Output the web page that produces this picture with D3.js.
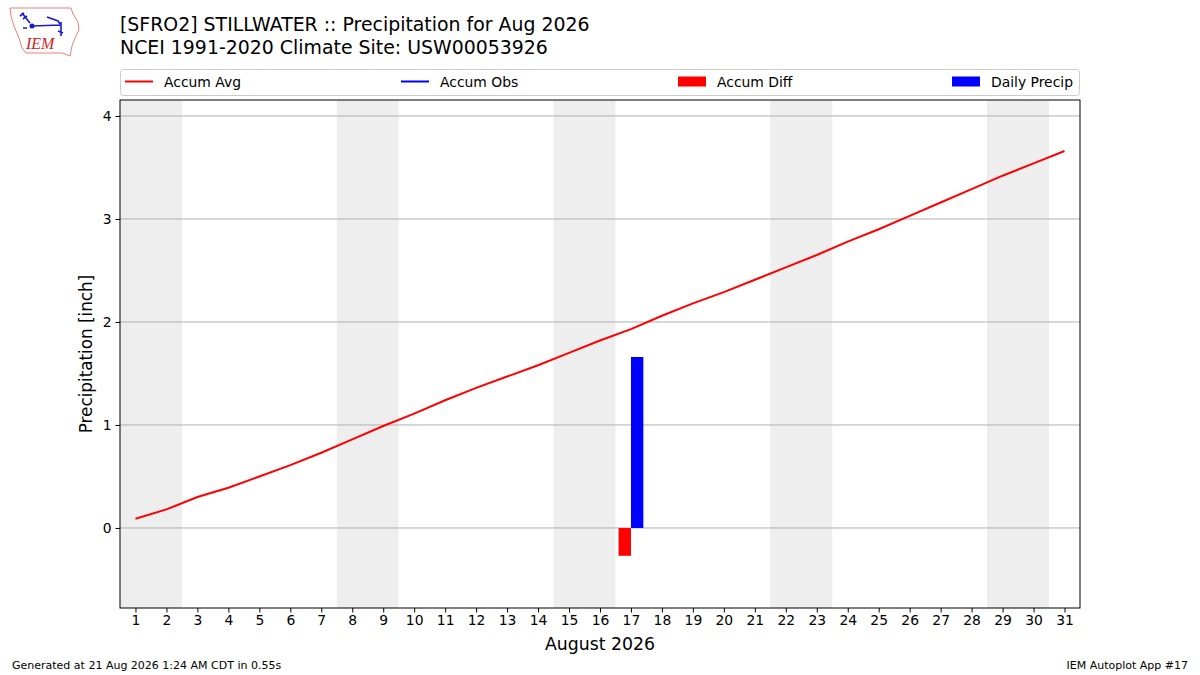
<!DOCTYPE html>
<html>
<head>
<meta charset="utf-8">
<script src="https://cdn.jsdelivr.net/npm/d3@7"></script>
<style>
  body { margin: 0; background: #fff; }
  svg { font-family: "DejaVu Sans", sans-serif; }
</style>
</head>
<body>
<div id="chart"></div>
<script>
// days of the month and accumulated climatology (inch)
const days = d3.range(1, 32);
const accumAvg = [0.09, 0.18, 0.30, 0.39, 0.50, 0.61, 0.73, 0.86, 0.99, 1.11,
                  1.24, 1.36, 1.47, 1.58, 1.70, 1.82, 1.93, 2.06, 2.18, 2.29,
                  2.41, 2.53, 2.65, 2.78, 2.90, 3.03, 3.16, 3.29, 3.42, 3.54, 3.66];
// observations (only one day reported)
const obsDays = [17];
const obsAccum = [1.66];
const dailyPrecip = [1.66];
const accumDiff = [-0.27];
// weekend days (Sat/Sun) for shading
const weekendStarts = [1, 8, 15, 22, 29];
const yTicks = [0, 1, 2, 3, 4];

const W = 1200, H = 675;
const margin = {top: 100, right: 120, bottom: 67, left: 120};
const width = W - margin.left - margin.right,
      height = H - margin.top - margin.bottom;

const svg = d3.select("#chart").append("svg")
    .attr("width", W).attr("height", H);

const x = d3.scaleLinear().domain([0.5, 31.5]).range([0, width]);
const y = d3.scaleLinear().domain([-0.777, 4.155]).range([height, 0]);

const g = svg.append("g")
    .attr("transform", "translate(" + margin.left + "," + margin.top + ")");

// weekend shading
g.selectAll("rect.wk")
  .data(weekendStarts)
  .enter().append("rect")
    .attr("class", "wk")
    .attr("x", d => x(d - 0.5))
    .attr("width", d => x(d + 1.5) - x(d - 0.5))
    .attr("y", 0)
    .attr("height", height)
    .attr("fill", "#eeeeee");

// horizontal grid
g.selectAll("line.grid")
  .data(yTicks)
  .enter().append("line")
    .attr("x1", 0).attr("x2", width)
    .attr("y1", d => y(d)).attr("y2", d => y(d))
    .attr("stroke", "#b0b0b0").attr("stroke-width", 1);

// accum diff bars (left of day) and daily precip (right of day)
g.selectAll("rect.diff")
  .data(obsDays.map((d, i) => ({day: d, v: accumDiff[i]})))
  .enter().append("rect")
    .attr("x", d => x(d.day - 0.4))
    .attr("width", x(0.9) - x(0.5))
    .attr("y", d => y(Math.max(0, d.v)))
    .attr("height", d => Math.abs(y(d.v) - y(0)))
    .attr("fill", "#ff0000");

g.selectAll("rect.daily")
  .data(obsDays.map((d, i) => ({day: d, v: dailyPrecip[i]})))
  .enter().append("rect")
    .attr("x", d => x(d.day))
    .attr("width", x(0.9) - x(0.5))
    .attr("y", d => y(Math.max(0, d.v)))
    .attr("height", d => Math.abs(y(d.v) - y(0)))
    .attr("fill", "#0000ff");

// lines
const line = d3.line().x(d => x(d[0])).y(d => y(d[1]));
g.append("path")
  .datum(days.map((d, i) => [d, accumAvg[i]]))
  .attr("d", line)
  .attr("fill", "none").attr("stroke", "#ff0000").attr("stroke-width", 2);
g.append("path")
  .datum(obsDays.map((d, i) => [d, obsAccum[i]]))
  .attr("d", line)
  .attr("fill", "none").attr("stroke", "#0000ff").attr("stroke-width", 2);

// axes
const xAxis = g.append("g")
  .attr("transform", "translate(0," + height + ")")
  .call(d3.axisBottom(x).tickValues(days).tickFormat(d3.format("d")).tickSize(4.5).tickPadding(3));
const yAxis = g.append("g")
  .call(d3.axisLeft(y).tickValues(yTicks).tickFormat(d3.format("d")).tickSize(4.5).tickPadding(4));
[xAxis, yAxis].forEach(a => {
  a.select(".domain").remove();
  a.selectAll("text").attr("font-size", 13.9).attr("fill", "#000")
    .attr("font-family", "DejaVu Sans, sans-serif");
  a.selectAll("line").attr("stroke", "#000");
});

// frame
g.append("rect")
  .attr("width", width).attr("height", height)
  .attr("fill", "none").attr("stroke", "#000").attr("stroke-width", 1);

// axis labels
svg.append("text")
  .attr("x", margin.left + width / 2).attr("y", 650)
  .attr("text-anchor", "middle").attr("font-size", 17.3)
  .text("August 2026");
svg.append("text")
  .attr("transform", "translate(92," + (margin.top + height / 2) + ") rotate(-90)")
  .attr("text-anchor", "middle").attr("font-size", 16.8)
  .text("Precipitation [inch]");

// titles
svg.append("text").attr("x", 120).attr("y", 31).attr("font-size", 18.9)
  .text("[SFRO2] STILLWATER :: Precipitation for Aug 2026");
svg.append("text").attr("x", 120).attr("y", 54).attr("font-size", 18.9)
  .text("NCEI 1991-2020 Climate Site: USW00053926");

// legend
const leg = svg.append("g");
leg.append("rect")
  .attr("x", 120.5).attr("y", 69.5).attr("width", 959).attr("height", 26)
  .attr("rx", 3).attr("fill", "#fff").attr("stroke", "#cccccc");
const legItems = [
  {label: "Accum Avg", type: "line", color: "#ff0000", x: 125},
  {label: "Accum Obs", type: "line", color: "#0000ff", x: 401},
  {label: "Accum Diff", type: "patch", color: "#ff0000", x: 678},
  {label: "Daily Precip", type: "patch", color: "#0000ff", x: 952}
];
legItems.forEach(it => {
  if (it.type === "line") {
    leg.append("line").attr("x1", it.x).attr("x2", it.x + 28)
      .attr("y1", 81.5).attr("y2", 81.5)
      .attr("stroke", it.color).attr("stroke-width", 2);
  } else {
    leg.append("rect").attr("x", it.x).attr("y", 76.5)
      .attr("width", 28).attr("height", 10).attr("fill", it.color);
  }
  leg.append("text").attr("x", it.x + 39).attr("y", 86.5)
    .attr("font-size", 13.9).text(it.label);
});

// footer
svg.append("text").attr("x", 12).attr("y", 669).attr("font-size", 11)
  .text("Generated at 21 Aug 2026 1:24 AM CDT in 0.55s");
svg.append("text").attr("x", 1188).attr("y", 669).attr("font-size", 11)
  .attr("text-anchor", "end").text("IEM Autoplot App #17");

// IEM logo (rough)
const logo = svg.append("g");
logo.append("path")
  .attr("d", "M10,8 L71,8 L73,14 L78,22 L79,30 L75,38 L72,46 L70,56 L62,53 L26,53 L22,48 L19,38 L14,26 L11,16 Z")
  .attr("fill", "none").attr("stroke", "#e88080").attr("stroke-width", 1);
logo.append("path")
  .attr("d", "M22,13 L30,23 M20,16 L24,13 M23,19 L27,16 M32,26 L61,25 M47,17 L58,21 L60,24 M61,22 L61,36 M58,31 L63,33")
  .attr("fill", "none").attr("stroke", "#1a1acc").attr("stroke-width", 1.6);
logo.append("circle").attr("cx", 32).attr("cy", 26).attr("r", 2.5).attr("fill", "#1a1acc");
logo.append("circle").attr("cx", 24).attr("cy", 28).attr("r", 1).attr("fill", "#1a1acc");
logo.append("circle").attr("cx", 26).attr("cy", 28).attr("r", 1).attr("fill", "#1a1acc");
logo.append("text").attr("x", 26).attr("y", 49)
  .attr("font-family", "Liberation Serif, serif").attr("font-style", "italic")
  .attr("font-size", 16).attr("fill", "#cc2222").text("IEM");
</script>
</body>
</html>
